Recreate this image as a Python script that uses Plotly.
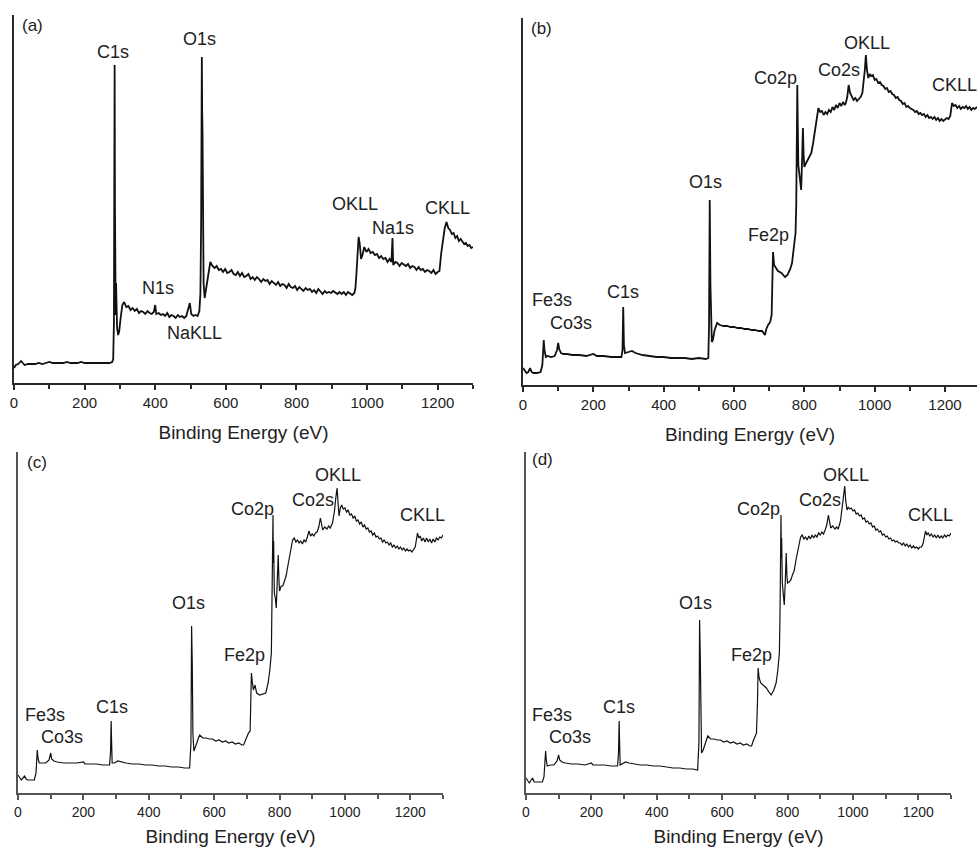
import plotly.graph_objects as go

W, H = 977, 848

# ---------------- data: (binding energy eV, intensity a.u.) -------------
spectrum_a = [
    (0, 15), (5, 18), (12, 19), (20, 22), (25, 20), (30, 18), (40, 19), (50, 19), (60, 19), (70, 20),
    (80, 19), (90, 20), (100, 21), (110, 20), (120, 20), (130, 20), (140, 20), (150, 21), (160, 20),
    (170, 20), (180, 20), (190, 21), (200, 20), (210, 20), (220, 20), (230, 20), (240, 20), (250, 20),
    (260, 20), (270, 20), (278, 21), (281, 24), (283, 60), (284, 258), (285, 318), (286, 175),
    (287, 80), (288, 68), (289, 100), (290, 80), (292, 55), (295, 48), (298, 52), (302, 65),
    (307, 78), (312, 81), (318, 76), (324, 77), (330, 73), (336, 75), (342, 72), (348, 74),
    (354, 70), (360, 72), (366, 71), (372, 69), (378, 72), (384, 70), (390, 69), (396, 71),
    (400, 78), (403, 69), (410, 70), (416, 68), (422, 69), (428, 67), (434, 70), (440, 66),
    (446, 68), (452, 67), (458, 65), (464, 68), (470, 66), (476, 67), (482, 65), (488, 67),
    (495, 78), (498, 80), (502, 69), (508, 67), (514, 68), (520, 67), (525, 72), (528, 90),
    (530, 160), (531, 245), (532, 326), (533, 270), (534, 250), (535, 180), (537, 100), (540, 85),
    (543, 92), (547, 105), (552, 115), (556, 121), (562, 117), (568, 115), (574, 117), (580, 113),
    (586, 114), (592, 111), (598, 114), (604, 110), (610, 111), (616, 113), (622, 109), (628, 108),
    (634, 111), (640, 107), (646, 110), (652, 106), (658, 107), (664, 109), (670, 104), (676, 106),
    (682, 103), (688, 106), (694, 104), (700, 101), (706, 104), (712, 102), (718, 103), (724, 99),
    (730, 102), (736, 100), (742, 98), (748, 101), (754, 97), (760, 99), (766, 98), (772, 95),
    (778, 99), (784, 96), (790, 95), (796, 97), (802, 93), (808, 96), (814, 94), (820, 92),
    (826, 95), (832, 93), (838, 94), (844, 91), (850, 93), (856, 90), (862, 94), (868, 91),
    (874, 89), (880, 92), (886, 90), (892, 91), (898, 90), (904, 92), (910, 90), (916, 89),
    (922, 91), (928, 89), (934, 91), (940, 88), (946, 91), (952, 89), (958, 88), (964, 90),
    (967, 95), (970, 110), (973, 130), (976, 146), (979, 140), (983, 124), (987, 128), (992, 136),
    (998, 131), (1004, 134), (1010, 130), (1016, 131), (1022, 128), (1028, 129), (1034, 125),
    (1040, 127), (1046, 124), (1052, 125), (1058, 121), (1064, 124), (1069, 121), (1072, 145),
    (1074, 118), (1080, 121), (1086, 120), (1092, 117), (1098, 120), (1104, 118), (1110, 117),
    (1116, 119), (1122, 115), (1128, 117), (1134, 116), (1140, 113), (1146, 116), (1152, 113),
    (1158, 114), (1164, 111), (1170, 113), (1176, 112), (1182, 110), (1188, 113), (1194, 109),
    (1200, 111), (1205, 112), (1210, 130), (1215, 145), (1220, 155), (1225, 161), (1230, 155),
    (1235, 153), (1240, 149), (1245, 150), (1250, 145), (1255, 147), (1260, 142), (1265, 144),
    (1270, 141), (1275, 139), (1280, 140), (1285, 137), (1290, 138), (1295, 135), (1300, 136),
]

spectrum_b = [
    (0, 17), (5, 14), (10, 12), (15, 13), (20, 17), (25, 13), (30, 12), (40, 12), (50, 13), (55, 20),
    (57, 38), (59, 45), (61, 35), (65, 28), (70, 29), (80, 28), (90, 29), (97, 35), (100, 42),
    (103, 36), (108, 32), (115, 31), (125, 31), (140, 30), (160, 30), (180, 29), (200, 31),
    (210, 29), (230, 29), (250, 28), (270, 28), (280, 28), (283, 35), (285, 78), (287, 40),
    (290, 32), (300, 33), (310, 34), (320, 32), (340, 30), (360, 29), (380, 28), (400, 28),
    (420, 27), (440, 27), (460, 27), (480, 26), (500, 27), (520, 26), (527, 27), (529, 60),
    (531, 185), (533, 100), (535, 50), (537, 43), (540, 45), (545, 55), (552, 62), (560, 60),
    (570, 59), (580, 59), (590, 58), (600, 58), (610, 57), (620, 57), (630, 56), (640, 56),
    (650, 55), (660, 55), (670, 54), (680, 54), (688, 50), (692, 56), (697, 60), (703, 63),
    (707, 70), (709, 120), (711, 133), (714, 120), (718, 118), (725, 114), (735, 112), (745, 108),
    (752, 110), (760, 116), (765, 122), (770, 135), (775, 152), (777, 180), (779, 240), (780, 300),
    (781, 270), (783, 220), (785, 212), (788, 205), (791, 195), (794, 230), (796, 257), (798, 230),
    (800, 218), (805, 222), (810, 225), (815, 228), (820, 232), (825, 242), (830, 255), (835, 265),
    (840, 277), (845, 273), (850, 274), (855, 270), (860, 273), (865, 271), (870, 275), (875, 273),
    (880, 278), (885, 275), (890, 280), (895, 277), (900, 282), (905, 279), (910, 283), (915, 280),
    (918, 282), (922, 288), (926, 300), (930, 292), (935, 288), (940, 285), (945, 287), (950, 284),
    (955, 286), (960, 288), (965, 292), (968, 300), (972, 315), (975, 330), (978, 315), (982, 307),
    (986, 311), (990, 309), (995, 310), (1000, 305), (1005, 306), (1010, 302), (1015, 303),
    (1020, 300), (1025, 299), (1030, 296), (1035, 297), (1040, 293), (1045, 294), (1050, 291),
    (1055, 290), (1060, 287), (1065, 288), (1070, 285), (1075, 284), (1080, 281), (1085, 282),
    (1090, 278), (1095, 279), (1100, 277), (1105, 276), (1110, 275), (1115, 273), (1120, 274),
    (1125, 271), (1130, 272), (1135, 270), (1140, 271), (1145, 268), (1150, 270), (1155, 267),
    (1160, 268), (1165, 266), (1170, 268), (1175, 265), (1180, 267), (1185, 264), (1190, 266),
    (1195, 264), (1200, 266), (1205, 267), (1210, 266), (1215, 269), (1220, 282), (1225, 279),
    (1230, 280), (1235, 277), (1240, 279), (1245, 276), (1250, 278), (1255, 277), (1260, 279),
    (1265, 276), (1270, 278), (1275, 275), (1280, 277), (1285, 276), (1291, 278),
]

spectrum_c = [
    (0, 18), (5, 15), (10, 13), (20, 17), (25, 14), (30, 13), (40, 13), (50, 13), (55, 20), (57, 35),
    (59, 43), (61, 35), (65, 30), (75, 30), (85, 30), (95, 33), (100, 40), (103, 34), (110, 32),
    (120, 31), (140, 30), (160, 30), (180, 30), (200, 31), (205, 29), (220, 29), (240, 29),
    (260, 28), (280, 28), (283, 40), (285, 72), (286, 55), (288, 30), (295, 30), (305, 32),
    (315, 31), (330, 30), (350, 29), (370, 29), (390, 28), (410, 28), (430, 27), (450, 27),
    (470, 26), (490, 26), (510, 25), (525, 25), (529, 50), (531, 167), (533, 130), (535, 60),
    (538, 42), (542, 45), (547, 50), (552, 55), (556, 58), (565, 55), (575, 55), (585, 54),
    (595, 54), (605, 52), (615, 53), (625, 51), (635, 52), (645, 50), (655, 51), (665, 49),
    (675, 50), (685, 48), (690, 48), (695, 52), (700, 57), (705, 60), (710, 62), (712, 100),
    (714, 120), (717, 110), (720, 103), (725, 108), (730, 100), (740, 98), (750, 99), (758, 100),
    (765, 110), (770, 122), (775, 140), (777, 180), (779, 240), (780, 278), (781, 230), (782, 252),
    (784, 200), (787, 195), (790, 185), (793, 205), (796, 238), (798, 215), (800, 202), (805, 207),
    (810, 207), (815, 212), (820, 217), (827, 230), (835, 247), (840, 253), (845, 255), (850, 251),
    (855, 253), (860, 250), (865, 252), (870, 249), (875, 253), (880, 251), (885, 256), (890, 262),
    (895, 257), (900, 259), (905, 257), (910, 260), (915, 261), (920, 266), (925, 275), (928, 268),
    (932, 263), (938, 266), (945, 264), (950, 267), (955, 265), (962, 270), (968, 282), (972, 295),
    (976, 305), (979, 290), (982, 277), (986, 285), (990, 288), (995, 284), (1000, 285),
    (1005, 281), (1010, 283), (1015, 278), (1020, 279), (1025, 275), (1030, 277), (1035, 272),
    (1040, 273), (1045, 269), (1050, 271), (1055, 266), (1060, 268), (1065, 264), (1070, 265),
    (1075, 261), (1080, 262), (1085, 258), (1090, 260), (1095, 256), (1100, 257), (1105, 254),
    (1110, 255), (1115, 251), (1120, 253), (1125, 250), (1130, 251), (1135, 248), (1140, 250),
    (1145, 246), (1150, 248), (1155, 245), (1160, 247), (1165, 244), (1170, 246), (1175, 243),
    (1180, 245), (1185, 242), (1190, 244), (1195, 242), (1200, 243), (1205, 241), (1210, 244),
    (1215, 246), (1222, 260), (1226, 255), (1230, 257), (1235, 252), (1240, 255), (1245, 251),
    (1250, 255), (1255, 251), (1260, 254), (1265, 250), (1270, 254), (1275, 251), (1280, 255),
    (1285, 253), (1290, 256), (1295, 255), (1300, 258),
]

spectrum_d = [
    (0, 15), (5, 12), (10, 10), (20, 15), (25, 11), (30, 11), (40, 11), (50, 11), (55, 16), (58, 35),
    (60, 42), (62, 33), (65, 27), (75, 28), (85, 28), (95, 32), (100, 38), (103, 33), (110, 31),
    (120, 30), (140, 29), (160, 29), (180, 28), (200, 30), (205, 28), (220, 28), (240, 28),
    (260, 27), (280, 27), (283, 40), (285, 72), (286, 55), (288, 28), (295, 29), (305, 31),
    (315, 30), (330, 29), (350, 28), (370, 28), (390, 27), (410, 27), (430, 26), (450, 25),
    (470, 25), (490, 24), (510, 24), (525, 23), (529, 50), (531, 173), (533, 138), (535, 60),
    (537, 40), (542, 43), (547, 48), (552, 54), (556, 57), (565, 54), (575, 54), (585, 53),
    (595, 53), (605, 51), (615, 52), (625, 50), (635, 51), (645, 49), (655, 50), (665, 48),
    (675, 49), (685, 47), (690, 47), (695, 52), (700, 57), (705, 60), (708, 90), (710, 125),
    (713, 115), (718, 110), (725, 108), (735, 105), (745, 100), (750, 98), (758, 103), (765, 110),
    (770, 122), (775, 140), (777, 180), (779, 240), (780, 278), (781, 235), (782, 255), (784, 210),
    (787, 198), (790, 188), (793, 210), (796, 240), (798, 218), (800, 210), (805, 211), (810, 213),
    (815, 218), (820, 222), (827, 235), (835, 250), (840, 256), (845, 258), (850, 254), (855, 256),
    (860, 253), (865, 257), (870, 254), (875, 258), (880, 255), (885, 258), (890, 256), (895, 260),
    (900, 258), (905, 261), (910, 259), (915, 263), (920, 268), (925, 278), (928, 270), (932, 265),
    (938, 267), (945, 264), (950, 266), (955, 264), (962, 272), (968, 290), (972, 300), (975, 307),
    (978, 292), (982, 283), (986, 286), (990, 284), (995, 285), (1000, 282), (1005, 283),
    (1010, 279), (1015, 280), (1020, 277), (1025, 278), (1030, 274), (1035, 275), (1040, 271),
    (1045, 272), (1050, 269), (1055, 270), (1060, 266), (1065, 267), (1070, 263), (1075, 264),
    (1080, 261), (1085, 262), (1090, 258), (1095, 259), (1100, 256), (1105, 257), (1110, 254),
    (1115, 255), (1120, 252), (1125, 253), (1130, 251), (1135, 252), (1140, 250), (1145, 250),
    (1150, 248), (1155, 250), (1160, 247), (1165, 249), (1170, 246), (1175, 248), (1180, 245),
    (1185, 247), (1190, 245), (1195, 246), (1200, 244), (1205, 246), (1210, 246), (1215, 250),
    (1222, 262), (1226, 258), (1230, 260), (1235, 257), (1240, 259), (1245, 256), (1250, 258),
    (1255, 255), (1260, 258), (1265, 255), (1270, 257), (1275, 255), (1280, 258), (1285, 256),
    (1290, 258), (1295, 257), (1300, 260),
]

# peak labels: text, energy position, intensity position
labels_a = ["C1s", "O1s", "N1s", "NaKLL", "OKLL", "Na1s", "CKLL"]
label_x_a = [280, 524, 408, 510, 966, 1073, 1229]
label_y_a = [331, 344, 95, 50, 179, 155, 175]

labels_bcd = ["Fe3s", "Co3s", "C1s", "O1s", "Fe2p", "Co2p", "Co2s", "OKLL", "CKLL"]
label_x_b = [82, 136, 284, 520, 697, 717, 898, 978, 1228]
label_y_b = [85, 62, 93, 203, 150, 307, 315, 342, 300]
label_x_c = [83, 135, 288, 520, 694, 716, 902, 979, 1236]
label_y_c = [78, 56, 86, 190, 138, 284, 293, 318, 278]
label_x_d = [80, 135, 284, 517, 691, 710, 899, 979, 1236]
label_y_d = [78, 56, 86, 190, 138, 284, 293, 318, 278]

panel_tags = ["(a)", "(b)", "(c)", "(d)"]
x_ticks = [0, 200, 400, 600, 800, 1000, 1200]
x_title = "Binding Energy (eV)"

# ---------------- layout helpers ----------------
FONT = "Liberation Sans, Arial, sans-serif"
TXT = "#222222"


def dom_x(a, b):
    return [a / W, b / W]


def dom_y(bottom_px, top_px):
    return [(H - bottom_px) / H, (H - top_px) / H]


panels = [
    dict(s=spectrum_a, labels=labels_a, lx=label_x_a, ly=label_y_a,
         xd=dom_x(14, 473), yd=dom_y(383, 15), xr=[0, 1300], ym=368, lw=1.8, ac="#2a2a2a",
         tag=(17, 358), standoff=16, tf=15),
    dict(s=spectrum_b, labels=labels_bcd, lx=label_x_b, ly=label_y_b,
         xd=dom_x(523, 977), yd=dom_y(385, 18), xr=[0, 1291], ym=367, lw=1.8, ac="#2a2a2a",
         tag=(17, 357), standoff=16, tf=15),
    dict(s=spectrum_c, labels=labels_bcd, lx=label_x_c, ly=label_y_c,
         xd=dom_x(18, 443), yd=dom_y(793, 452), xr=[0, 1300], ym=341, lw=1.2, ac="#555555",
         tag=(22, 330), standoff=11, tf=14),
    dict(s=spectrum_d, labels=labels_bcd, lx=label_x_d, ly=label_y_d,
         xd=dom_x(526, 951), yd=dom_y(793, 452), xr=[0, 1300], ym=341, lw=1.2, ac="#555555",
         tag=(12, 333), standoff=11, tf=14),
]

fig = go.Figure()
annotations = []
layout = {}

for i, p in enumerate(panels):
    n = "" if i == 0 else str(i + 1)
    xa, ya = "x" + n, "y" + n
    ex = [e for e, _ in p["s"]]
    iy = [v for _, v in p["s"]]
    fig.add_trace(go.Scatter(x=ex, y=iy, mode="lines", xaxis=xa, yaxis=ya,
                             line=dict(color="#111111", width=p["lw"]), showlegend=False,
                             hoverinfo="x+y"))
    layout["xaxis" + n] = dict(
        domain=p["xd"], range=p["xr"], anchor=ya, showgrid=False, zeroline=False,
        automargin=False,
        showline=True, linecolor=p["ac"], linewidth=2,
        ticks="outside", ticklen=5, tickwidth=1.5, tickcolor=p["ac"],
        tickvals=x_ticks, ticktext=[str(v) for v in x_ticks],
        minor=dict(ticks="outside", ticklen=4, tickwidth=1.5, tickcolor=p["ac"], dtick=100,
                   tick0=0, showgrid=False),
        tickfont=dict(family=FONT, size=p["tf"], color=TXT),
        title=dict(text=x_title, font=dict(family=FONT, size=19, color=TXT),
                   standoff=p["standoff"]),
        fixedrange=True,
    )
    layout["yaxis" + n] = dict(
        domain=p["yd"], range=[0, p["ym"]], anchor=xa, showgrid=False, zeroline=False,
        automargin=False,
        showline=True, linecolor=p["ac"], linewidth=2, ticks="", showticklabels=False,
        fixedrange=True,
    )
    for t, lx, ly in zip(p["labels"], p["lx"], p["ly"]):
        annotations.append(dict(x=lx, y=ly, xref=xa, yref=ya, text=t, showarrow=False,
                                xanchor="center", yanchor="middle",
                                font=dict(family=FONT, size=18, color=TXT)))
    tx, ty = p["tag"]
    annotations.append(dict(x=tx, y=ty, xref=xa, yref=ya, text=panel_tags[i], showarrow=False,
                            xanchor="left", yanchor="middle",
                            font=dict(family=FONT, size=17, color=TXT)))

fig.update_layout(
    template="none",
    width=W, height=H, margin=dict(l=0, r=0, t=0, b=0),
    paper_bgcolor="white", plot_bgcolor="white",
    annotations=annotations, **layout,
)

fig.write_html("out.html", config={"displayModeBar": False},
               post_script="document.body.style.margin='0';")
